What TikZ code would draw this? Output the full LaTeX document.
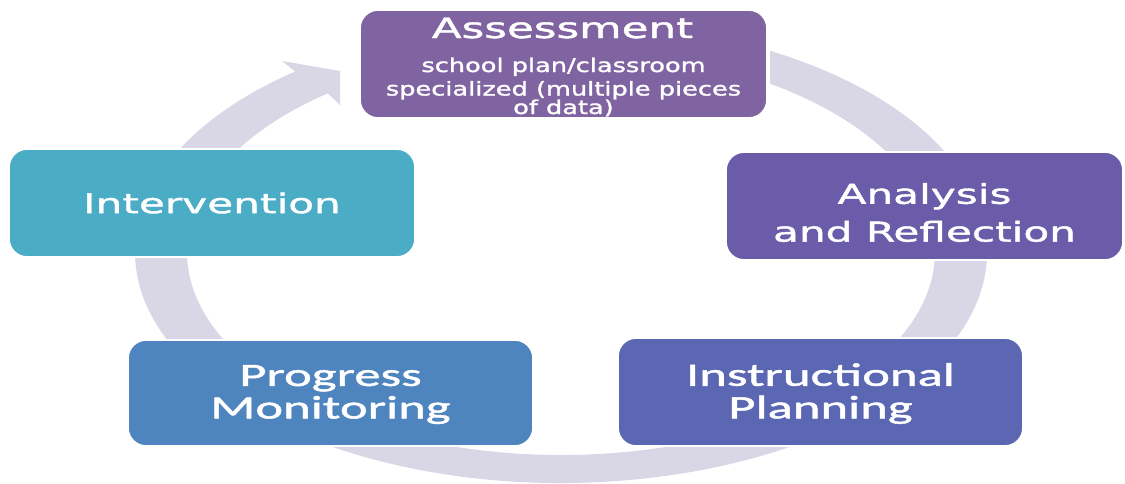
\documentclass[tikz,border=0pt]{standalone}
\usepackage{fontspec}
\usepackage{tikz}

\newfontfamily\widesans[FakeStretch=1.55, FakeBold=1.5]{DejaVu Sans}
\newfontfamily\notesans[FakeStretch=1.35, FakeBold=1.5]{DejaVu Sans}
\newfontfamily\widecal[FakeStretch=1.62, FakeBold=1.5]{Carlito}

\definecolor{ringgray}{HTML}{D9D6E5}
\definecolor{assesscol}{HTML}{8064A2}
\definecolor{analysiscol}{HTML}{6B5CA9}
\definecolor{plancol}{HTML}{5B67B3}
\definecolor{progresscol}{HTML}{4F85BF}
\definecolor{intervcol}{HTML}{4BACC6}

\tikzset{
    stage/.style={rounded corners=0.36cm, draw=white, line width=1pt, text=white,
        align=center, minimum height=2.16cm, inner sep=0pt},
    subnote/.style={text=white, anchor=base, inner sep=0pt,
        font=\notesans\fontsize{10.8}{11}\selectfont},
}

\begin{document}
\begin{tikzpicture}
    \useasboundingbox (0,0) rectangle (22.5,9.66);
    \coordinate (hub) at (11.22,4.62);
    \fill[ringgray] ([shift={(hub)}]60.6:8.52 and 4.62)
        arc[start angle=60.6, end angle=-231.4, x radius=8.52, y radius=4.62]
        -- (5.64,8.44) -- (6.80,8.24) -- (6.80,7.56)
        -- ([shift={(hub)}]-231.4:7.48 and 4.06)
        arc[start angle=-231.4, end angle=56.0, x radius=7.48, y radius=4.06]
        -- cycle;

    \node[stage, fill=assesscol, minimum width=8.14cm] (assess) at (11.27,8.38) {};
    \node[text=white, anchor=base, inner sep=0pt, font=\widesans\fontsize{16}{19}\selectfont]
        (assesstitle) at (11.25,8.90) {Assessment};
    \node[subnote] (assessplan) at (11.27,8.22) {school plan/classroom};
    \node[subnote] (assesspieces) at (11.27,7.75) {specialized (multiple pieces};
    \node[subnote] (assessdata) at (11.27,7.38) {of data)};

    \node[stage, fill=analysiscol, minimum width=7.94cm] (analysis) at (18.49,5.54) {};
    \node[text=white, align=center, inner sep=0pt, font=\widesans\fontsize{15.5}{21.5}\selectfont]
        (analysistext) at ([yshift=-0.13cm]analysis.center) {Analysis\\and Reflection};
    \node[stage, fill=plancol, minimum width=8.10cm, text depth=0.05cm,
        font=\widecal\fontsize{18.5}{18.5}\selectfont] (planning) at (16.41,1.82) {Instructional\\Planning};
    \node[stage, fill=progresscol, minimum width=8.10cm, minimum height=2.12cm, text depth=0.05cm,
        font=\widecal\fontsize{18.5}{18.5}\selectfont] (progress) at (6.61,1.80) {Progress\\Monitoring};
    \node[stage, fill=intervcol, minimum width=8.12cm,
        font=\widesans\fontsize{15.5}{19}\selectfont] (intervention) at (4.24,5.60) {Intervention};
\end{tikzpicture}
\end{document}
